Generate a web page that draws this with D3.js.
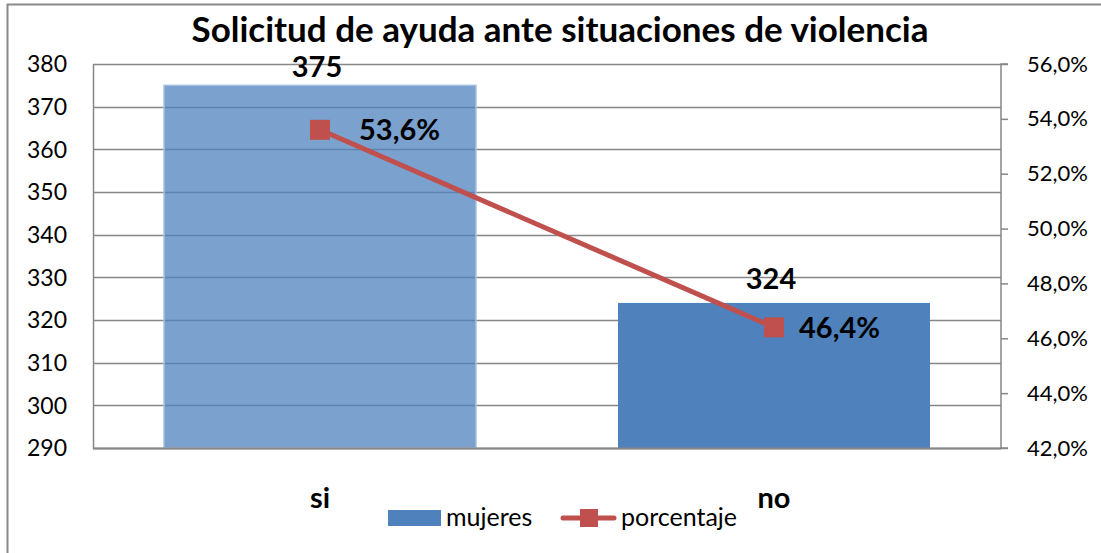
<!DOCTYPE html>
<html>
<head>
<meta charset="utf-8">
<script src="https://cdn.jsdelivr.net/npm/d3@7"></script>
<style>
  body { margin: 0; background: #ffffff; }
  text { font-family: Lato, "Open Sans", sans-serif; fill: #000; }
</style>
</head>
<body>
<div id="app"></div>
<script>
// data
const categories = ["si", "no"];
const mujeres = [375, 324];
const porcentaje = [53.6, 46.4];
const leftTicks = [290, 300, 310, 320, 330, 340, 350, 360, 370, 380];
const rightTicks = [42, 44, 46, 48, 50, 52, 54, 56];
const title = "Solicitud de ayuda ante situaciones de violencia";

const width = 1101, height = 553;
const plot = { left: 93, right: 1001, top: 64, bottom: 448 };
// label offsets right of the markers (as placed in the original)
const pctLabelDx = [39, 25];

const svg = d3.select("#app").append("svg")
  .attr("width", width)
  .attr("height", height);

// chart border
svg.append("rect")
  .attr("x", 7.5).attr("y", 4.5)
  .attr("width", 1200).attr("height", 700)
  .attr("fill", "none")
  .attr("stroke", "#898989")
  .attr("stroke-width", 2);

let x = d3.scaleBand()
  .domain(categories)
  .range([plot.left, plot.right])
  .paddingInner(0.3128)
  .paddingOuter(0.1564);

let y = d3.scaleLinear().domain([290, 380]).range([plot.bottom, plot.top]);
let y2 = d3.scaleLinear().domain([42, 56]).range([plot.bottom, plot.top]);

// horizontal grid lines
svg.append("g")
  .selectAll("line")
  .data(leftTicks)
  .enter()
  .append("line")
  .attr("x1", plot.left).attr("x2", plot.right)
  .attr("y1", d => Math.round(y(d)) + 0.5)
  .attr("y2", d => Math.round(y(d)) + 0.5)
  .attr("stroke", "#868686")
  .attr("stroke-width", 1.5);

// left axis line
svg.append("line")
  .attr("x1", plot.left + 0.5).attr("x2", plot.left + 0.5)
  .attr("y1", plot.top).attr("y2", plot.bottom + 1)
  .attr("stroke", "#868686").attr("stroke-width", 1.5);

// bars
svg.append("g")
  .selectAll("rect")
  .data(mujeres)
  .enter()
  .append("rect")
  .attr("x", (d, i) => x(categories[i]))
  .attr("y", d => y(d))
  .attr("width", x.bandwidth())
  .attr("height", d => plot.bottom - y(d))
  .attr("fill", "#4F81BD")
  .attr("fill-opacity", (d, i) => i === 0 ? 0.75 : 1)
  .attr("stroke", (d, i) => i === 0 ? "#A7C0E0" : "none")
  .attr("stroke-width", 1.5);

// bottom axis line
svg.append("line")
  .attr("x1", plot.left).attr("x2", plot.right)
  .attr("y1", plot.bottom + 0.5).attr("y2", plot.bottom + 0.5)
  .attr("stroke", "#868686").attr("stroke-width", 2);

// left tick labels
svg.append("g")
  .selectAll("text")
  .data(leftTicks)
  .enter()
  .append("text")
  .attr("x", 67)
  .attr("y", d => y(d))
  .attr("dy", "0.36em")
  .attr("text-anchor", "end")
  .attr("font-size", 23)
  .text(d => d);

// right axis
let rightAxis = svg.append("g")
  .attr("transform", "translate(" + plot.right + ",0)")
  .call(d3.axisRight(y2).tickValues(rightTicks).tickSize(7).tickPadding(19)
    .tickFormat(d => d3.format(".1f")(d).replace(".", ",") + "%"));
rightAxis.selectAll("path, line").attr("stroke", "#868686").attr("stroke-width", 1.5);
rightAxis.select(".domain").attr("d", "M7," + plot.top + "H0V" + plot.bottom + "H7");
rightAxis.selectAll("text")
  .attr("font-size", 22)
  .attr("font-family", "Lato, sans-serif")
  .attr("fill", "#000");

// line
const cx = (d, i) => x(categories[i]) + x.bandwidth() / 2;
svg.append("path")
  .datum(porcentaje)
  .attr("d", d3.line().x(cx).y(d => y2(d)))
  .attr("fill", "none")
  .attr("stroke", "#C0504D")
  .attr("stroke-width", 5);

svg.append("g")
  .selectAll("rect")
  .data(porcentaje)
  .enter()
  .append("rect")
  .attr("x", (d, i) => cx(d, i) - 10)
  .attr("y", d => y2(d) - 10)
  .attr("width", 20).attr("height", 20)
  .attr("fill", "#C0504D");

// value labels
svg.append("g")
  .selectAll("text")
  .data(mujeres)
  .enter()
  .append("text")
  .attr("x", (d, i) => cx(d, i) - 3)
  .attr("y", d => Math.max(y(d) - 14, 77))
  .attr("text-anchor", "middle")
  .attr("font-size", 29)
  .attr("font-weight", "bold")
  .text(d => d);

svg.append("g")
  .selectAll("text")
  .data(porcentaje)
  .enter()
  .append("text")
  .attr("x", (d, i) => cx(d, i) + pctLabelDx[i])
  .attr("y", d => y2(d))
  .attr("dy", "0.36em")
  .attr("font-size", 29)
  .attr("font-weight", "bold")
  .text(d => d3.format(".1f")(d).replace(".", ",") + "%");

// category labels
svg.append("g")
  .selectAll("text")
  .data(categories)
  .enter()
  .append("text")
  .attr("x", d => x(d) + x.bandwidth() / 2)
  .attr("y", 508)
  .attr("text-anchor", "middle")
  .attr("font-size", 29)
  .attr("font-weight", "bold")
  .text(d => d);

// title
svg.append("text")
  .attr("x", 560)
  .attr("y", 42)
  .attr("text-anchor", "middle")
  .attr("font-size", 35)
  .attr("font-weight", "bold")
  .text(title);

// legend
let legend = svg.append("g");
legend.append("rect")
  .attr("x", 388).attr("y", 510)
  .attr("width", 53).attr("height", 16)
  .attr("fill", "#4F81BD");
legend.append("text")
  .attr("x", 446).attr("y", 526)
  .attr("font-size", 25)
  .text("mujeres");
legend.append("line")
  .attr("x1", 563).attr("x2", 614)
  .attr("y1", 518).attr("y2", 518)
  .attr("stroke", "#C0504D").attr("stroke-width", 5)
  .attr("stroke-linecap", "round");
legend.append("rect")
  .attr("x", 580).attr("y", 509)
  .attr("width", 18).attr("height", 18)
  .attr("fill", "#C0504D");
legend.append("text")
  .attr("x", 621).attr("y", 526)
  .attr("font-size", 25)
  .text("porcentaje");
</script>
</body>
</html>
